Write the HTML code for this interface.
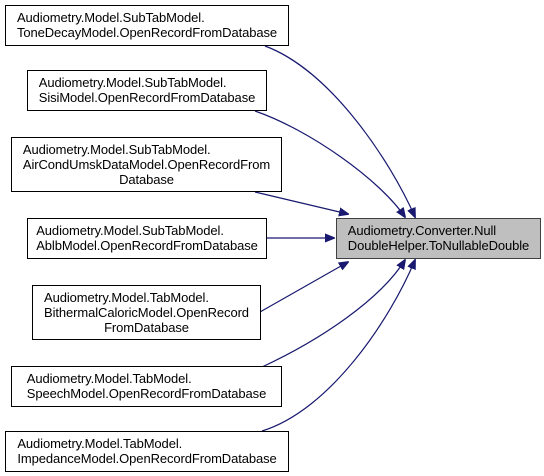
<!DOCTYPE html>
<html><head><style>
body{margin:0;background:#fff;width:544px;height:476px;position:relative;overflow:hidden;font-family:"Liberation Sans",Arial,sans-serif;font-size:13px;}
.b{position:absolute;border:1px solid #000;background:#fff;box-sizing:border-box;line-height:15px;padding:4px 0 0 0;color:#000;text-align:center;white-space:nowrap;letter-spacing:-0.1px}
.b span{display:inline-block;text-align:left}
svg{position:absolute;left:0;top:0}
</style></head><body>
<svg width="544" height="476">
<defs><marker id="a" markerWidth="10" markerHeight="10" refX="9" refY="5" orient="auto" markerUnits="userSpaceOnUse"><path d="M0,1 L10,5 L0,9 Z" fill="#191970" stroke="#191970"/></marker></defs>
<g stroke="#191970" stroke-width="1.2" fill="none" marker-end="url(#a)">
<path d="M265,46 C330,70 390,160 415,217"/>
<path d="M255,111 C310,130 380,180 405,217"/>
<path d="M255,192 L348,214"/>
<path d="M266,238 L334,238"/>
<path d="M260,312 L348,262"/>
<path d="M262,367 C320,340 380,300 405,260"/>
<path d="M262,431 C330,410 390,320 415,260"/>
</g>
</svg>
<div class="b" style="left:5px;top:5px;width:284px;height:41px"><span>Audiometry.Model.SubTabModel.<br>ToneDecayModel.OpenRecordFromDatabase</span></div>
<div class="b" style="left:27px;top:70px;width:240px;height:41px"><span>Audiometry.Model.SubTabModel.<br>SisiModel.OpenRecordFromDatabase</span></div>
<div class="b" style="left:11px;top:137px;width:271px;height:55px"><span>Audiometry.Model.SubTabModel.<br>AirCondUmskDataModel.OpenRecordFrom<br><span style="display:block;text-align:center">Database</span></span></div>
<div class="b" style="left:27px;top:218px;width:240px;height:41px"><span>Audiometry.Model.SubTabModel.<br>AblbModel.OpenRecordFromDatabase</span></div>
<div class="b" style="left:32px;top:285px;width:229px;height:55px"><span>Audiometry.Model.TabModel.<br>BithermalCaloricModel.OpenRecord<br><span style="display:block;text-align:center">FromDatabase</span></span></div>
<div class="b" style="left:11px;top:366px;width:271px;height:41px"><span>Audiometry.Model.TabModel.<br>SpeechModel.OpenRecordFromDatabase</span></div>
<div class="b" style="left:5px;top:431px;width:284px;height:41px"><span>Audiometry.Model.TabModel.<br>ImpedanceModel.OpenRecordFromDatabase</span></div>
<div class="b" style="left:336px;top:218px;width:205px;height:41px;background:#bfbfbf;border-color:#404040"><span>Audiometry.Converter.Null<br>DoubleHelper.ToNullableDouble</span></div>
</body></html>
